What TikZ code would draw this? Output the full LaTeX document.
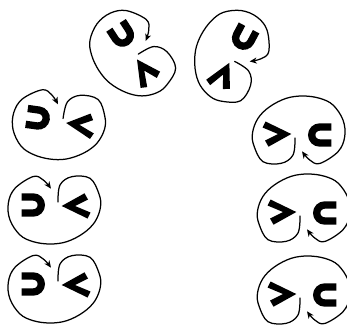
\documentclass[tikz,border=0pt]{standalone}
\usetikzlibrary{arrows.meta}
\tikzset{
  curl/.style={line width=1.25pt,line cap=round},
  glyph/.style={fill=black,draw=none},
  spinpair/.pic={
    % bold cup and chevron
    \draw[line width=7.3pt] (-33.3,13) -- (-21.7,13) arc[start angle=90,end angle=-90,radius=8] -- (-33.3,-3);
    \fill[glyph] (6.7,4) -- (29.5,16.7) -- (33,10.5) -- (20,4) -- (35.5,-2.5) -- (32.5,-8.5) -- cycle;
    % the open loop with its arrow
    \draw[curl,-{Stealth[length=7pt,width=6pt,inset=2pt]}] plot[smooth,tension=0.6] coordinates {
      (3,8) (5,25) (16.7,33.3) (35,31.7) (44,16) (45.5,3) (40,-11.7) (28.3,-23.3)
      (11.7,-31.7) (-5,-34) (-21.7,-31.7) (-35,-25) (-45,-10) (-46.7,6.7)
      (-40,21.7) (-21.7,33.5) (-11.7,30) (-4,21.3)};
  }
}
\begin{document}
\begin{tikzpicture}[x=1pt,y=1pt]
\useasboundingbox (0,0) rectangle (347,324);

\pic[rotate=-8] at (59,198) {spinpair};
\pic at (55,114) {spinpair};
\pic at (55,35) {spinpair};

\pic[rotate=-57] at (130,268) {spinpair};
\pic[rotate=-118] at (229,269) {spinpair};

\pic[rotate=180] at (298,194) {spinpair};
\pic[rotate=180] at (303,116) {spinpair};
\pic[rotate=180] at (303,34) {spinpair};
\end{tikzpicture}
\end{document}
